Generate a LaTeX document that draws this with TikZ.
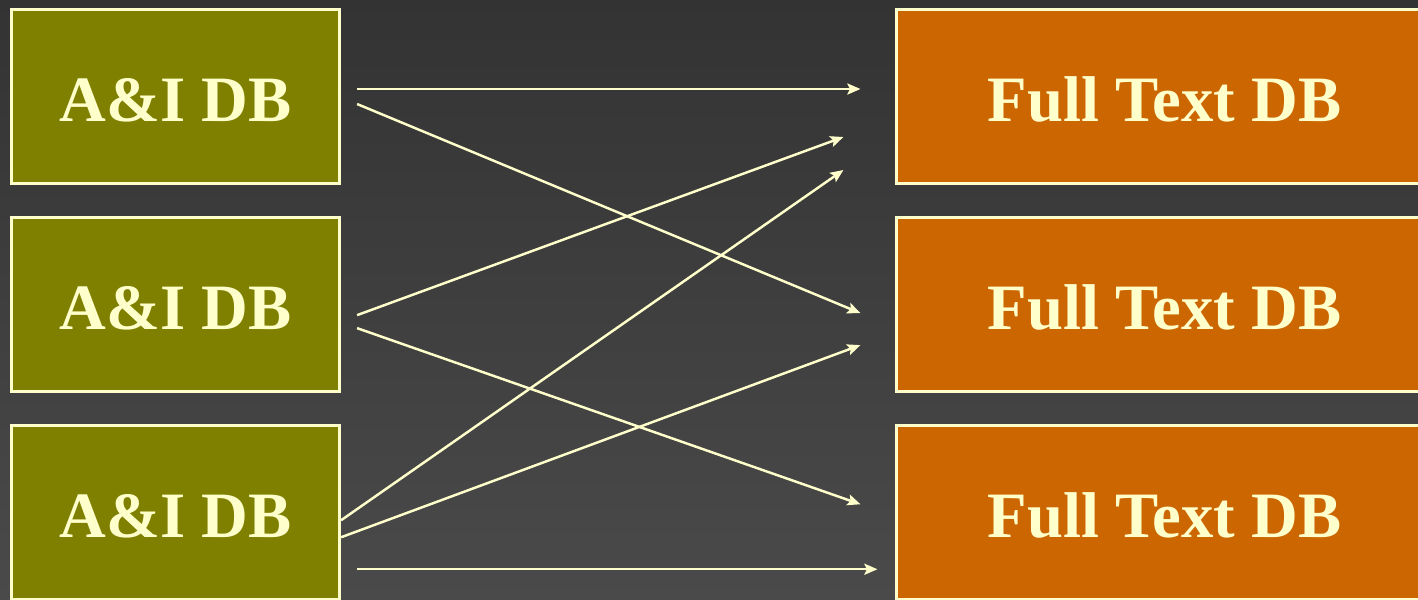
\documentclass[tikz,border=0pt]{standalone}
\usepackage{fontspec}
\setmainfont{Liberation Serif}
\usetikzlibrary{calc, positioning, arrows.meta}
\definecolor{bgtop}{RGB}{51,51,51}
\definecolor{bgbot}{RGB}{74,74,74}
\definecolor{olivebox}{RGB}{128,128,0}
\definecolor{orangebox}{RGB}{204,102,0}
\definecolor{cream}{RGB}{255,255,204}
\tikzset{
  dbbox/.style={draw=cream, line width=0.03cm, minimum width=3.28cm, minimum height=1.74cm,
    text=cream, font=\fontsize{18.4}{20}\selectfont\bfseries, text centered,
    text height=0.5cm, text depth=0pt},
  aidb/.style={dbbox, fill=olivebox},
  ftdb/.style={dbbox, fill=orangebox, minimum width=5.35cm},
  link/.style={draw=cream, line width=0.7pt, -{Stealth[length=0.13cm, width=0.11cm, inset=0.025cm]}}
}
\begin{document}
\begin{tikzpicture}
			[x=0.01cm, y=-0.01cm, node distance=2.08cm]
		\path[use as bounding box, clip] (0,0) rectangle (1418,599);
		\shade[top color=bgtop, bottom color=bgbot] (0,0) rectangle (1418,599);
		% nodes %
		\node[aidb] (a1) at (175.5,96.5) {A\&I DB};
		\node[aidb, below of = a1] (a2) {A\&I DB};
		\node[aidb, below of = a2] (a3) {A\&I DB};
		\node[ftdb, right of = a1, node distance=9.885cm] (f1) {Full Text DB};
		\node[ftdb, below of = f1] (f2) {Full Text DB};
		\node[ftdb, below of = f2] (f3) {Full Text DB};

		% edges %
		\draw[link] ($(a1.east)+(16,-7.5)$) -- ($(f1.west)+(-35,-7.5)$);
		\draw[link] ($(a1.east)+(16,7.5)$) -- ($(f2.west)+(-35,8.5)$);
		\draw[link] ($(a2.east)+(16,10.5)$) -- ($(f1.west)+(-52,40.5)$);
		\draw[link] ($(a2.east)+(16,23.5)$) -- ($(f3.west)+(-35,-8.5)$);
		\draw[link] ($(a3.east)+(0,7.5)$) -- ($(f1.west)+(-52,73.5)$);
		\draw[link] ($(a3.east)+(0,24.5)$) -- ($(f2.west)+(-35,40.5)$);
		\draw[link] ($(a3.east)+(16,56.5)$) -- ($(f3.west)+(-18,56.5)$);
		\end{tikzpicture}
\end{document}
